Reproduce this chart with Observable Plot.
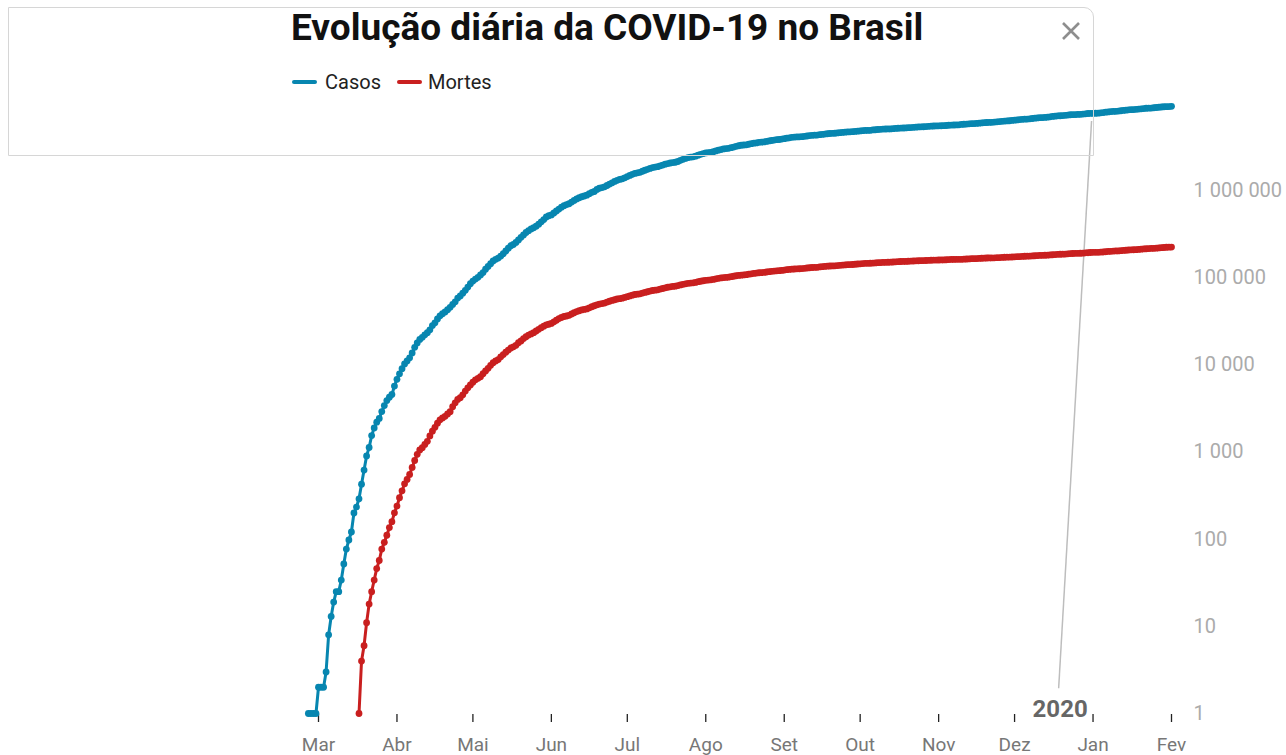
<!DOCTYPE html>
<html>
<head>
<meta charset="utf-8">
<script src="https://cdn.jsdelivr.net/npm/d3@7"></script>
<script src="https://cdn.jsdelivr.net/npm/@observablehq/plot@0.6"></script>
<style>
  html, body { margin: 0; padding: 0; background: #fff; }
  #wrap { position: relative; width: 1286px; height: 755px; overflow: hidden; font-family: Roboto, "Noto Sans", sans-serif; }
  #chart { position: absolute; left: 0; top: 0; }
  #panel { position: absolute; left: 8px; top: 7px; width: 1086px; height: 149px; border: 1.5px solid #d6d6d6; border-radius: 0 10px 0 0; box-sizing: border-box; pointer-events: none; }
  #title { position: absolute; left: 291px; top: 9px; font-size: 37px; line-height: 1; font-weight: 700; color: #111; white-space: nowrap; }
  .leg { position: absolute; top: 72px; font-size: 20px; line-height: 1; color: #222; white-space: nowrap; }
  .sw { position: absolute; top: 80px; height: 4px; border-radius: 2px; }
  #close { position: absolute; left: 1061px; top: 21px; }
</style>
</head>
<body>
<div id="wrap">
  <div id="chart"></div>
  <div id="panel"></div>
  <div id="title"></div>
  <div id="legend"></div>
  <svg id="close" width="20" height="20" viewBox="0 0 20 20"><path d="M2 2 L18 18 M18 2 L2 18" stroke="#8e8e8e" stroke-width="2.6" fill="none"/></svg>
</div>
<script>
// ---------------- DATA ----------------
const titleText = "Evolução diária da COVID-19 no Brasil";
const seriesNames = ["Casos", "Mortes"];
const seriesColors = ["#0786b0", "#c91f1f"];

const casesStart = "2020-02-26";
const casesValues = [
  // Fev 26-29
  1,1,1,1,
  // Mar
  2,2,2,3,8,13,19,25,25,34,52,77,98,121,200,234,291,428,621,904,1128,1546,1891,2201,2433,2915,3417,3904,4256,4579,5717,
  // Abr
  6836,7910,9056,10278,11130,12056,13717,15927,17857,19638,20727,22169,23430,25262,28320,30425,33682,36599,38654,40581,43079,45757,49492,52995,58509,61888,66501,71886,78162,85380,
  // Mai
  91589,96559,101147,107780,114715,125218,135106,145328,155939,162699,168331,177589,188974,202918,218223,233142,241080,254220,271628,291579,310087,330890,347398,363211,374898,391222,411821,438238,465166,498440,514849,
  // Jun
  526447,555383,584016,614941,645771,672846,691758,707412,739503,772416,802828,828810,850514,867624,888271,923189,955377,978142,1032913,1067579,1085038,1106470,1145906,1188631,1228114,1274974,1313667,1344143,1368195,1402041,
  // Jul
  1448753,1496858,1539081,1577004,1603055,1623284,1668589,1713160,1755779,1800827,1839850,1864681,1884967,1926824,1966748,2012151,2046328,2074860,2098389,2118646,2159654,2227514,2287475,2343366,2394513,2419091,2442375,2483191,2552265,2610102,2662485,
  // Ago
  2707877,2733677,2750318,2801921,2859073,2912212,2962442,3012412,3035422,3057470,3109630,3164785,3224876,3275520,3317096,3340197,3359570,3407354,3456652,3501975,3532330,3582362,3605783,3622861,3669995,3717156,3761391,3804803,3846153,3862311,3908272,
  // Set
  3950931,3997865,4041638,4091801,4123000,4137521,4147794,4162073,4197889,4238446,4282164,4315687,4330455,4345610,4382263,4419083,4455386,4495183,4528240,4544629,4558040,4591364,4627780,4657702,4689613,4717991,4732309,4745464,4777522,4810935,
  // Out
  4847092,4880523,4906833,4915289,4927235,4969141,5000694,5028444,5055888,5082637,5094979,5103408,5113628,5140863,5169386,5200300,5224362,5235344,5250727,5273954,5298772,5323630,5353656,5380635,5394128,5409854,5439641,5468270,5494376,5516658,5535605,
  // Nov
  5545705,5554206,5566049,5590025,5631181,5653561,5664115,5675032,5699005,5747660,5781582,5810652,5848959,5863093,5876464,5911758,5945849,5981767,6020164,6052786,6071401,6087608,6118708,6166606,6204220,6238350,6290272,6314740,6335878,6386787,
  // Dez
  6436650,6487084,6533968,6577177,6603540,6623911,6674999,6728452,6781799,6836227,6880127,6901952,6927145,6970034,7040608,7110434,7162978,7213155,7238600,7263619,7318821,7365517,7423945,7448560,7465806,7484285,7504833,7563551,7619200,7675973,7700578,
  // Jan 2021
  7716405,7733746,7753752,7810400,7873830,7961673,8013708,8075998,8105790,8131612,8195637,8256536,8324294,8393492,8455059,8488099,8511770,8573864,8638249,8697368,8753920,8816254,8844577,8871393,8933356,8996876,9058687,9118513,9176975,9204731,9229322,
  // Fev 1
  9283418
];

const deathsStart = "2020-03-17";
const deathsValues = [
  // Mar 17-31
  1,4,6,11,18,25,34,46,57,77,92,111,136,159,201,
  // Abr
  240,299,359,432,486,553,667,800,941,1056,1124,1223,1328,1532,1736,1924,2141,2347,2462,2575,2741,2906,3313,3670,4016,4205,4543,5017,5466,5901,
  // Mai
  6329,6750,7025,7321,7921,8536,9146,9897,10627,11123,11519,12400,13149,13993,14817,15633,16118,16792,17971,18859,20047,21048,22013,22666,23473,24512,25598,26754,27878,28834,29314,
  // Jun
  29937,31199,32548,34021,35026,35930,36455,37134,38406,39680,40919,41828,42720,43332,43959,45241,46510,47748,48954,49976,50617,51271,52645,53830,54971,55961,57070,57622,58314,59594,
  // Jul
  60632,61884,63174,64265,64867,65487,66741,67964,69184,70398,71469,72100,72833,74133,75366,76688,77851,78772,79488,80120,81487,82771,84082,85238,86449,87004,87618,88539,90134,91263,92475,
  // Ago
  93563,94104,94665,95819,97256,98493,99572,100477,101049,101752,103026,104201,105463,106523,107232,107852,108536,109888,111100,112304,113358,114250,114744,115309,116580,117665,118649,119504,120262,120828,121381,
  // Set
  122596,123780,124614,125502,126203,126650,126960,127464,128539,129522,130396,131210,131625,132006,133119,134106,134935,135793,136532,136895,137272,138105,138977,139808,140537,141406,141741,142058,143010,143952,
  // Out
  144680,145388,146352,146675,146773,147494,148228,148957,149639,150198,150488,150689,150998,151747,152460,153214,153675,153905,154176,154837,155403,155900,156471,156903,157134,157397,157946,158456,158969,159477,159884,
  // Nov
  160074,160253,160496,161106,161736,162269,162628,162802,162829,162842,163368,164281,164737,165658,165798,166014,166699,167455,168061,168613,169016,169183,169485,170115,170769,171460,171974,172561,172833,173120,
  // Dez
  173817,174515,175270,175964,176628,176941,177317,178159,178995,179765,180437,181123,181402,181835,182799,183735,184827,185650,186356,186764,187291,188259,189220,190032,190488,190795,191139,191570,192681,193875,194949,
  // Jan 2021
  195411,195725,196018,196561,197732,198974,200498,201460,202631,203100,203580,204690,205964,207095,208246,209296,209847,210299,211491,212831,214147,215243,216445,217037,217664,218878,220161,221547,222666,223945,224504,
  // Fev 1
  225099
];

const xDomain = ["2020-03-01", "2021-02-01"];
const monthTickDates = ["2020-03-01","2020-04-01","2020-05-01","2020-06-01","2020-07-01","2020-08-01","2020-09-01","2020-10-01","2020-11-01","2020-12-01","2021-01-01","2021-02-01"];
const monthTickLabels = ["Mar","Abr","Mai","Jun","Jul","Ago","Set","Out","Nov","Dez","Jan","Fev"];
const yDomain = [1, 1e7];
const yTickValues = [1, 10, 100, 1000, 10000, 100000, 1000000];
const yTickLabels = ["1", "10", "100", "1 000", "10 000", "100 000", "1 000 000"];

// year annotation
const yearLabel = [{date: "2020-12-19", value: 1, text: "2020"}];
const yearLeader = [{date1: "2020-12-18T10:00:00Z", value1: 1.95, date2: "2020-12-31T10:00:00Z", value2: 6.3e6}];

// ---------------- BUILD ----------------
const toDate = s => new Date(s.length === 10 ? s + "T00:00:00Z" : s);
const rows = [];
casesValues.forEach((v, i) => rows.push({series: seriesNames[0], date: d3.utcDay.offset(toDate(casesStart), i), value: v}));
deathsValues.forEach((v, i) => rows.push({series: seriesNames[1], date: d3.utcDay.offset(toDate(deathsStart), i), value: v}));

const tickDates = monthTickDates.map(toDate);
const labelOf = new Map(tickDates.map((d, i) => [+d, monthTickLabels[i]]));
const yLabelOf = new Map(yTickValues.map((v, i) => [v, yTickLabels[i]]));

const plot = Plot.plot({
  width: 1286,
  height: 755,
  marginLeft: 318,
  marginRight: 115,
  marginTop: 103,
  marginBottom: 42,
  style: {fontFamily: "Roboto, 'Noto Sans', sans-serif", background: "transparent", overflow: "visible"},
  x: {type: "utc", domain: xDomain.map(toDate)},
  y: {type: "log", domain: yDomain},
  color: {domain: seriesNames, range: seriesColors},
  marks: [
    Plot.axisX({ticks: tickDates, tickSize: 8, tickFormat: () => "", stroke: "#222", strokeWidth: 1.3, dy: 1, label: null}),
    Plot.axisX({ticks: tickDates, tickSize: 0, tickPadding: 24, tickFormat: d => labelOf.get(+d), fill: "#777", fontSize: 19, label: null}),
    Plot.axisY({anchor: "right", ticks: yTickValues, tickSize: 0, tickPadding: 22, tickFormat: d => yLabelOf.get(d), fill: "#ababab", fontSize: 20, label: null}),
    Plot.link(yearLeader, {x1: d => toDate(d.date1), y1: "value1", x2: d => toDate(d.date2), y2: "value2", stroke: "#bdbdbd", strokeWidth: 1.5}),
    Plot.text(yearLabel, {x: d => toDate(d.date), y: "value", text: "text", fontSize: 24, fontWeight: "bold", fill: "#666", lineAnchor: "bottom", dy: 3}),
    Plot.line(rows, {x: "date", y: "value", z: "series", stroke: "series", strokeWidth: 3, curve: "linear"}),
    Plot.dot(rows, {x: "date", y: "value", fill: "series", r: 3.4})
  ]
});
document.getElementById("chart").appendChild(plot);

document.getElementById("title").textContent = titleText;
const legend = document.getElementById("legend");
const legPos = [{sw: 292, tx: 325}, {sw: 397, tx: 428}];
seriesNames.forEach((name, i) => {
  const sw = document.createElement("div");
  sw.className = "sw";
  sw.style.left = legPos[i].sw + "px";
  sw.style.width = "25px";
  sw.style.background = seriesColors[i];
  legend.appendChild(sw);
  const t = document.createElement("div");
  t.className = "leg";
  t.style.left = legPos[i].tx + "px";
  t.textContent = name;
  legend.appendChild(t);
});
</script>
</body>
</html>
